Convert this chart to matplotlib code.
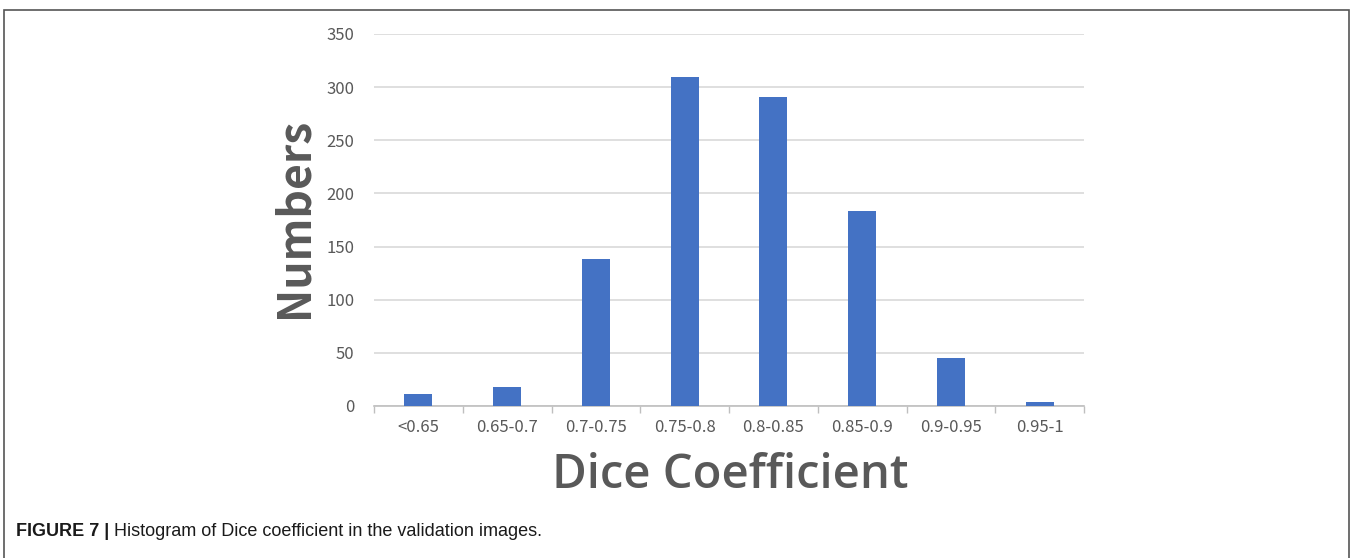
import matplotlib
matplotlib.use("Agg")
import matplotlib.pyplot as plt
from matplotlib.patches import Rectangle

# Dice coefficient histogram
categories = ['<0.65', '0.65-0.7', '0.7-0.75', '0.75-0.8', '0.8-0.85', '0.85-0.9', '0.9-0.95', '0.95-1']
counts = [11, 18, 138, 310, 291, 183, 45, 4]
yticks = [0, 50, 100, 150, 200, 250, 300, 350]

grey = '#595959'
cjk = 'Noto Sans CJK SC'

fig = plt.figure(figsize=(13.52, 5.58), dpi=100)
ax = fig.add_axes([374 / 1352, 1 - 406 / 558, 710 / 1352, 372 / 558])

x = list(range(len(categories)))
ax.bar(x, counts, width=0.313, color='#4472C4', zorder=3)

ax.set_xlim(-0.5, len(categories) - 0.5)
ax.set_ylim(0, 350)
ax.set_yticks(yticks)
ax.set_yticklabels([str(v) for v in yticks], color=grey, fontsize=12, fontfamily=cjk, fontweight='light')
ax.set_xticks(x)
ax.set_xticklabels(categories, color=grey, fontsize=12, fontfamily=cjk, fontweight='light')
ax.tick_params(axis='y', length=0, pad=14)
ax.tick_params(axis='x', length=0, pad=9)
# boundary ticks between categories
ax.set_xticks([i - 0.5 for i in range(len(categories) + 1)], minor=True)
ax.tick_params(axis='x', which='minor', length=5, color='#bfbfbf', width=1)

ax.grid(axis='y', color='#d9d9d9', linewidth=1.2, zorder=0)
for s in ['top', 'right', 'left']:
    ax.spines[s].set_visible(False)
ax.spines['bottom'].set_color('#bfbfbf')
ax.spines['bottom'].set_linewidth(1.2)

fig.text(294 / 1352, 1 - 218 / 558, 'Numbers', rotation=90, ha='center', va='center',
         fontsize=32, color=grey, fontfamily=cjk, fontweight='bold')
fig.text(730 / 1352, 1 - 475 / 558, 'Dice Coefficient', ha='center', va='center',
         fontsize=34, color=grey, fontfamily='Open Sans', fontweight='semibold')

# caption
t1 = fig.text(16 / 1352, 1 - 532 / 558, 'FIGURE 7 |', ha='left', va='center',
              fontsize=13, fontweight='bold', fontfamily='Liberation Sans', color='#1a1a1a')
fig.canvas.draw()
bb = t1.get_window_extent()
fig.text((bb.x1 + 5) / 1352, 1 - 532 / 558, 'Histogram of Dice coefficient in the validation images.',
         ha='left', va='center', fontsize=13, fontfamily='Liberation Sans', color='#1a1a1a')

# frame around figure
fig.patches.append(Rectangle((4 / 1352, -0.05), 1345 / 1352, 1.05 - 10 / 558, transform=fig.transFigure,
                             fill=False, edgecolor='#555555', linewidth=1.2))

fig.savefig('out.png', dpi=100)
